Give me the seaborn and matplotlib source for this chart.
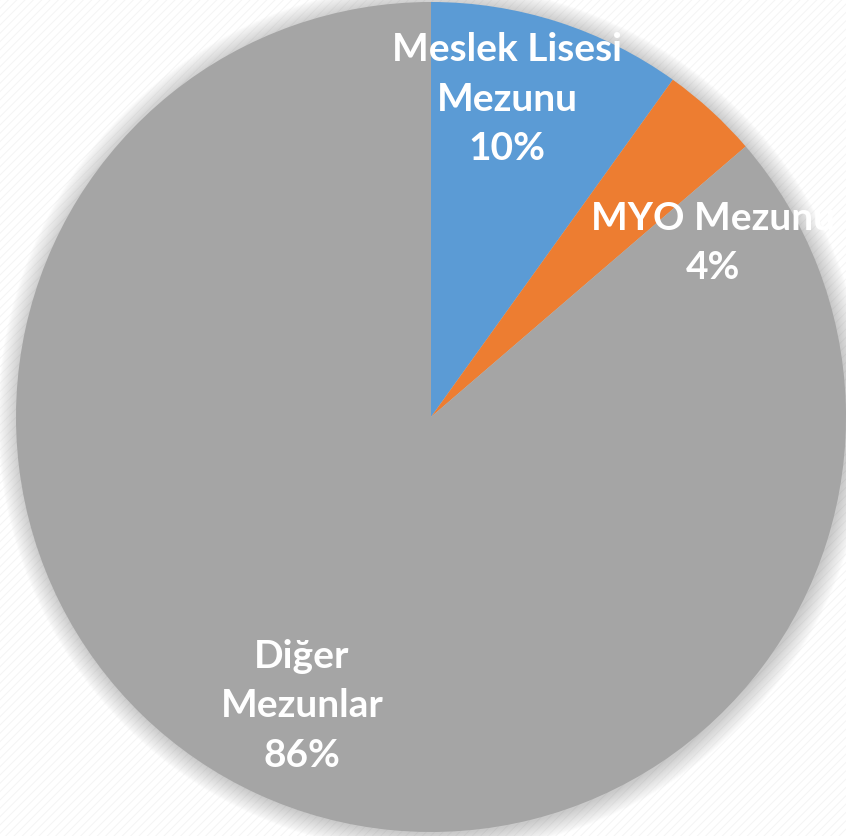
import numpy as np
import matplotlib.pyplot as plt
import seaborn as sns
from matplotlib.patches import Circle, Rectangle

sns.set_theme(style="white")
plt.rcParams['font.family'] = ['Lato', 'DejaVu Sans']
plt.rcParams['hatch.linewidth'] = 0.6

# veriler
labels = ['Meslek Lisesi\nMezunu', 'MYO Mezunu', 'Diğer\nMezunlar']
values = [9.9, 3.8, 86.3]
colors = ['#5B9BD5', '#ED7D31', '#A5A5A5']
# etiket yeri (dilim ortasindan aci farki, yaricap)
label_offset = [(4.4, 0.79), (-15.7, 0.80), (0.5, 0.76)]

fig = plt.figure(figsize=(8.46, 8.37), dpi=100)
ax = fig.add_axes([0, 0, 1, 1])

# arka plan cizgileri
bg = Rectangle((-2, -2), 4, 4, facecolor='white', edgecolor='#f3f3f3',
               hatch='////', linewidth=0, zorder=0)
ax.add_patch(bg)

# golge
for k in range(25):
    ax.add_patch(Circle((0.004, -0.004), 1 + k * 0.002, facecolor='#909090',
                        alpha=0.02, linewidth=0, zorder=1))

wedges, _ = ax.pie(values, colors=colors, startangle=90, counterclock=False,
                   radius=1, wedgeprops=dict(linewidth=0, zorder=2))

total = sum(values)
for w, lab, v, (off, r) in zip(wedges, labels, values, label_offset):
    mid = (w.theta1 + w.theta2) / 2 + off
    x = r * np.cos(np.deg2rad(mid))
    y = r * np.sin(np.deg2rad(mid))
    ax.text(x, y, f'{lab}\n{round(v / total * 100):.0f}%', ha='center',
            va='center', color='white', fontsize=28, fontweight='bold',
            linespacing=1.5, zorder=3)

ax.set_xlim(-431 / 415, 415 / 415)
ax.set_ylim(-419 / 415, 418 / 415)
ax.set_aspect('equal')
ax.axis('off')

fig.savefig('out.png', dpi=100)
